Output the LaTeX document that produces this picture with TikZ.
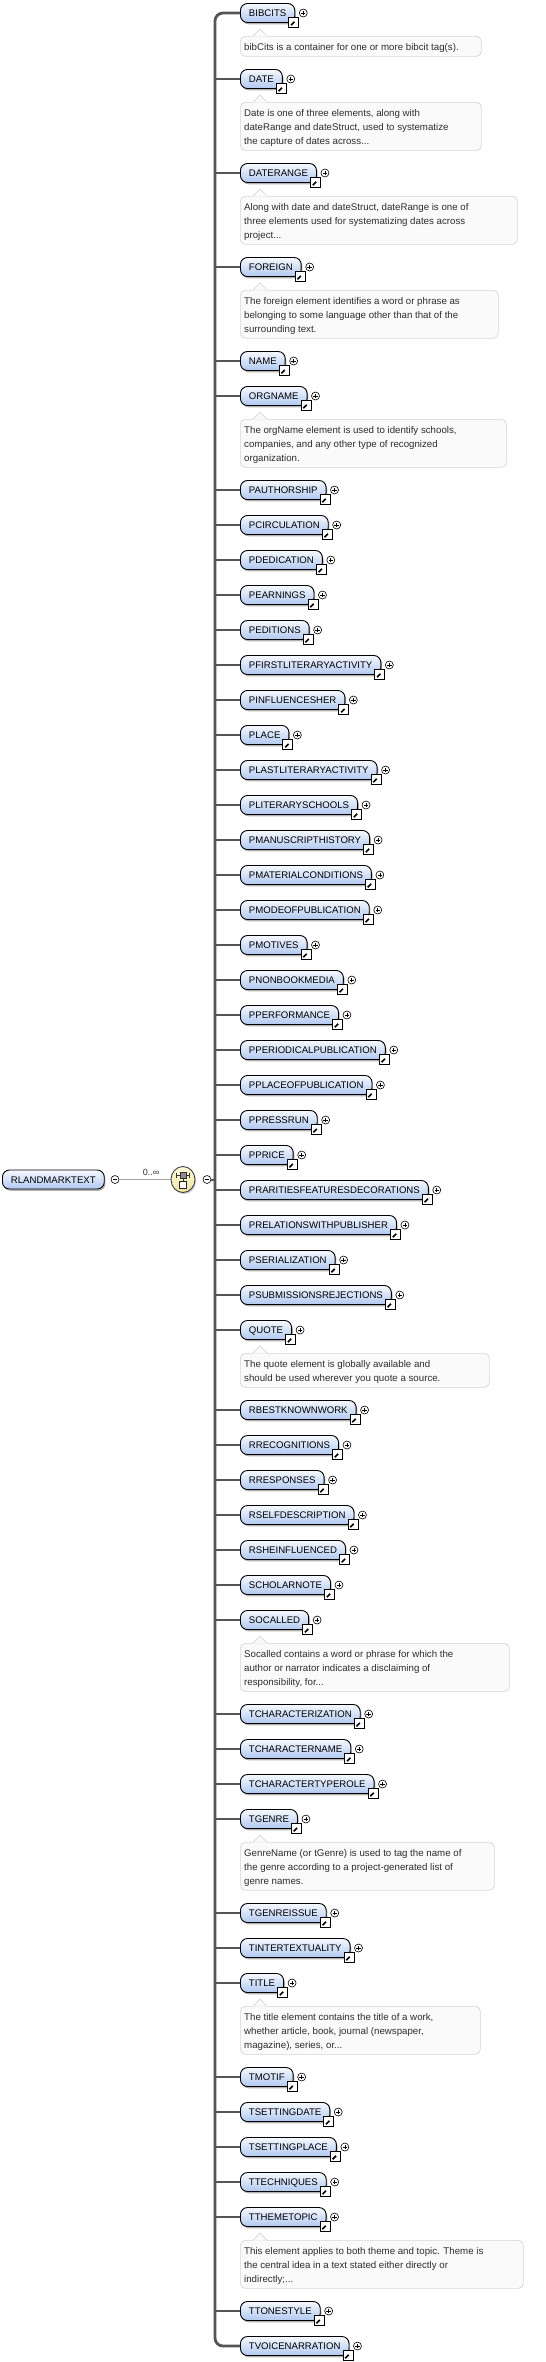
\documentclass[tikz,border=0pt]{standalone}
\usepackage{fontspec}
\setmainfont{Liberation Sans}
\usetikzlibrary{shadows,shapes.geometric}
\definecolor{elemtop}{RGB}{246,249,255}
\definecolor{elembot}{RGB}{176,200,240}
\definecolor{annfill}{RGB}{250,250,250}
\definecolor{anndraw}{RGB}{214,214,214}
\definecolor{anntext}{RGB}{45,45,45}
\definecolor{buscol}{RGB}{85,85,85}
\definecolor{thincol}{RGB}{165,165,165}
\definecolor{seqtop}{RGB}{255,252,222}
\definecolor{seqbot}{RGB}{238,226,160}
\tikzset{
  elem/.style={anchor=west, draw=black, line width=0.9pt, rounded corners=7pt,
    top color=elemtop, bottom color=elembot, minimum height=19pt,
    inner xsep=8.5pt, inner ysep=0pt, text height=7pt, text depth=0pt,
    font=\fontsize{9.6}{11}\selectfont,
    drop shadow={shadow xshift=1.2pt, shadow yshift=-1.8pt, fill=black!55, opacity=0.55}},
  plusc/.style={circle, draw=black, fill=white, line width=0.6pt, minimum size=8pt, inner sep=0pt,
    path picture={\draw[line width=0.6pt] ([xshift=-2.2pt]path picture bounding box.center) -- ([xshift=2.2pt]path picture bounding box.center);
      \draw[line width=0.6pt] ([yshift=-2.2pt]path picture bounding box.center) -- ([yshift=2.2pt]path picture bounding box.center);}},
  minusc/.style={circle, draw=black, fill=white, line width=0.6pt, minimum size=8pt, inner sep=0pt,
    path picture={\draw[line width=0.6pt] ([xshift=-2.2pt]path picture bounding box.center) -- ([xshift=2.2pt]path picture bounding box.center);}},
  linkic/.style={draw=black, fill=white, line width=0.8pt, minimum size=10pt, inner sep=0pt,
    path picture={\draw[line width=1.6pt] ([shift={(2.3pt,2.3pt)}]path picture bounding box.south west) -- ([shift={(6pt,6pt)}]path picture bounding box.south west);
      \fill ([shift={(8.2pt,8.2pt)}]path picture bounding box.south west) -- ([shift={(3.4pt,8.2pt)}]path picture bounding box.south west) -- ([shift={(8.2pt,3.4pt)}]path picture bounding box.south west) -- cycle;}},
  annbox/.style={draw=anndraw, fill=annfill, line width=0.7pt, rounded corners=5pt, inner sep=0pt},
  anntxt/.style={text=anntext, inner sep=0pt, font=\fontsize{9.7}{11}\selectfont},
  branch/.style={draw=buscol, line width=2pt},
  busline/.style={draw=buscol, line width=2.8pt, rounded corners=8pt},
  thinline/.style={draw=thincol, line width=0.9pt},
  seqnode/.style={ellipse, draw=black!75, line width=0.9pt, top color=seqtop, bottom color=seqbot,
    minimum width=24pt, minimum height=26pt, inner sep=0pt,
    drop shadow={shadow xshift=1.2pt, shadow yshift=-1.5pt, fill=black!40, opacity=0.5}},
}
\newcommand\xelbox[2]{%
  \node[elem] (#1) at (240,#2) {#1};
  \node[plusc] (#1-p) at ([xshift=8pt]#1.east) {};
  \node[linkic] (#1-l) at ([shift={(-1.5pt,-9.5pt)}]#1.east) {};
}
\newcommand\xel[2]{%
  \xelbox{#1}{#2}
  \draw[branch] (#1.west) -- (#1.west -| bustop);
}
\newcommand\annline[4]{% name, index, y, text
  \if\relax\detokenize{#4}\relax\else
    \node[anntxt, anchor=base west] (#1-t#2) at (244,#3) {#4};
  \fi}
\newcommand\xann[7]{%
  \pgfmathsetmacro\anntop{#2+23}
  \pgfmathsetmacro\annh{6+14*#4}
  \pgfmathsetmacro\annw{#3-240}
  \node[annbox, minimum width=\annw pt, minimum height=\annh pt, anchor=north west] (#1-a) at (240,\anntop) {};
  \fill[annfill] (253,\anntop+0.6) -- (260,\anntop-7) -- (267,\anntop+0.6) -- cycle;
  \draw[draw=anndraw, line width=0.7pt] (253,\anntop) -- (260,\anntop-7) -- (267,\anntop);
  \pgfmathsetmacro\annya{\anntop+14}
  \pgfmathsetmacro\annyb{\anntop+28}
  \pgfmathsetmacro\annyc{\anntop+42}
  \annline{#1}{1}{\annya}{#5}
  \annline{#1}{2}{\annyb}{#6}
  \annline{#1}{3}{\annyc}{#7}
}
\begin{document}
\begin{tikzpicture}[x=1pt,y=-1pt]
\fill[white] (0,0) rectangle (546,2362);
\useasboundingbox (0,0) rectangle (546,2362);
\coordinate (bustop) at (215,13);
\coordinate (busbot) at (215,2346);

% root and compositor
\node[elem] (RLANDMARKTEXT) at (2,1179.5) {RLANDMARKTEXT};
\node[minusc] (rootm) at (115,1179.5) {};
\node[seqnode] (seq) at (183,1179.5) {};
\node[minusc] (seqm) at (207,1179.5) {};
\draw[thinline] (rootm) -- (seq);
\node[text=black!80, inner sep=0pt, font=\fontsize{9}{10}\selectfont] (card) at (151,1172) {0..∞};
\draw[line width=0.8pt, black!80] (176.5,1175) -- (189.5,1175);
\draw[line width=0.8pt, black!80] (176.5,1172.5) -- (176.5,1177.5);
\draw[line width=0.8pt, black!80] (189.5,1172.5) -- (189.5,1177.5);
\node[draw=black!80, fill=black!45, minimum size=6pt, inner sep=0pt, line width=0.7pt] (seqa) at (183,1175) {};
\node[draw=black!85, fill=white, minimum size=6.5pt, inner sep=0pt, line width=0.8pt] (seqb) at (183,1185) {};
\draw[line width=0.7pt, black!80] (seqa.south) -- (seqb.north);
\draw[branch] (seqm) -- (seqm -| bustop);

% elements
\xelbox{BIBCITS}{13}
\xann{BIBCITS}{13}{481}{1}{bibCits is a container for one or more bibcit tag(s).}{}{}
\xel{DATE}{79}
\xann{DATE}{79}{481}{3}{Date is one of three elements, along with}{dateRange and dateStruct, used to systematize}{the capture of dates across...}
\xel{DATERANGE}{173}
\xann{DATERANGE}{173}{517}{3}{Along with date and dateStruct, dateRange is one of}{three elements used for systematizing dates across}{project...}
\xel{FOREIGN}{267}
\xann{FOREIGN}{267}{498}{3}{The foreign element identifies a word or phrase as}{belonging to some language other than that of the}{surrounding text.}
\xel{NAME}{361}
\xel{ORGNAME}{396}
\xann{ORGNAME}{396}{506}{3}{The orgName element is used to identify schools,}{companies, and any other type of recognized}{organization.}
\xel{PAUTHORSHIP}{490}
\xel{PCIRCULATION}{525}
\xel{PDEDICATION}{560}
\xel{PEARNINGS}{595}
\xel{PEDITIONS}{630}
\xel{PFIRSTLITERARYACTIVITY}{665}
\xel{PINFLUENCESHER}{700}
\xel{PLACE}{735}
\xel{PLASTLITERARYACTIVITY}{770}
\xel{PLITERARYSCHOOLS}{805}
\xel{PMANUSCRIPTHISTORY}{840}
\xel{PMATERIALCONDITIONS}{875}
\xel{PMODEOFPUBLICATION}{910}
\xel{PMOTIVES}{945}
\xel{PNONBOOKMEDIA}{980}
\xel{PPERFORMANCE}{1015}
\xel{PPERIODICALPUBLICATION}{1050}
\xel{PPLACEOFPUBLICATION}{1085}
\xel{PPRESSRUN}{1120}
\xel{PPRICE}{1155}
\xel{PRARITIESFEATURESDECORATIONS}{1190}
\xel{PRELATIONSWITHPUBLISHER}{1225}
\xel{PSERIALIZATION}{1260}
\xel{PSUBMISSIONSREJECTIONS}{1295}
\xel{QUOTE}{1330}
\xann{QUOTE}{1330}{489}{2}{The quote element is globally available and}{should be used wherever you quote a source.}{}
\xel{RBESTKNOWNWORK}{1410}
\xel{RRECOGNITIONS}{1445}
\xel{RRESPONSES}{1480}
\xel{RSELFDESCRIPTION}{1515}
\xel{RSHEINFLUENCED}{1550}
\xel{SCHOLARNOTE}{1585}
\xel{SOCALLED}{1620}
\xann{SOCALLED}{1620}{509}{3}{Socalled contains a word or phrase for which the}{author or narrator indicates a disclaiming of}{responsibility, for...}
\xel{TCHARACTERIZATION}{1714}
\xel{TCHARACTERNAME}{1749}
\xel{TCHARACTERTYPEROLE}{1784}
\xel{TGENRE}{1819}
\xann{TGENRE}{1819}{494}{3}{GenreName (or tGenre) is used to tag the name of}{the genre according to a project-generated list of}{genre names.}
\xel{TGENREISSUE}{1913}
\xel{TINTERTEXTUALITY}{1948}
\xel{TITLE}{1983}
\xann{TITLE}{1983}{480}{3}{The title element contains the title of a work,}{whether article, book, journal (newspaper,}{magazine), series, or...}
\xel{TMOTIF}{2077}
\xel{TSETTINGDATE}{2112}
\xel{TSETTINGPLACE}{2147}
\xel{TTECHNIQUES}{2182}
\xel{TTHEMETOPIC}{2217}
\xann{TTHEMETOPIC}{2217}{523}{3}{This element applies to both theme and topic. Theme is}{the central idea in a text stated either directly or}{indirectly;...}
\xel{TTONESTYLE}{2311}
\xelbox{TVOICENARRATION}{2346}

\draw[busline] (BIBCITS.west) -- (bustop) -- (busbot) -- (TVOICENARRATION.west);
\end{tikzpicture}
\end{document}
